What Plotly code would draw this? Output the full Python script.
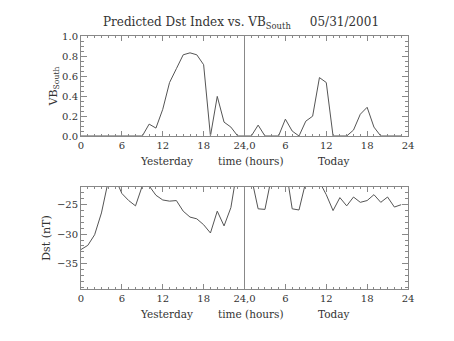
import plotly.graph_objects as go

hours = list(range(48))
vb_south = [0, 0, 0, 0, 0, 0, 0, 0, 0, 0, 0.12, 0.08, 0.27, 0.54, 0.68, 0.82, 0.84, 0.82, 0.72, 0.0, 0.40, 0.14, 0.09, 0.0,
            0, 0, 0.11, 0, 0, 0, 0.17, 0.05, 0, 0.15, 0.20, 0.59, 0.54, 0, 0, 0, 0.06, 0.22, 0.29, 0.09, 0, 0, 0, 0]
dst = [-32.6, -31.9, -30.1, -26.4, -21.0, -20.5, -23.1, -24.3, -25.2, -21.8, -21.8, -23.4, -24.2, -24.4, -24.3, -26.1,
       -27.1, -27.4, -28.4, -29.8, -26.1, -28.6, -25.5, -18.5,
       -18.0, -20.3, -25.7, -25.8, -20.1, -19.0, -18.3, -25.7, -25.9, -21.1, -20.0, -21.1, -23.3, -26.0, -23.8, -25.2,
       -23.7, -24.6, -24.3, -23.3, -24.6, -23.7, -25.4, -25.0]
tick_vals = [0, 6, 12, 18, 24, 30, 36, 42, 48]
tick_text = ["0", "6", "12", "18", "24,0", "6", "12", "18", "24"]
sub_labels = ["Yesterday", "time (hours)", "Today"]
sub_pos = [12.5, 25, 37]

W, H = 454, 341
L, R, T, B = 81, 408, 36, 289
top_y0, bot_y1 = 136, 187
ph = B - T
FONT = "DejaVu Serif"
TXT = "#333333"
LINE = "#555555"
AX = "#888888"

fig = go.Figure()
fig.add_trace(go.Scatter(x=hours, y=vb_south, mode="lines", line=dict(color=LINE, width=1),
                         xaxis="x", yaxis="y", showlegend=False))
fig.add_trace(go.Scatter(x=hours, y=dst, mode="lines", line=dict(color=LINE, width=1),
                         xaxis="x2", yaxis="y2", showlegend=False))

axcommon = dict(showline=True, linecolor=AX, linewidth=1, mirror="allticks", ticks="inside",
                tickcolor=AX, showgrid=False, zeroline=False,
                tickfont=dict(family=FONT, size=10, color=TXT))
xcommon = dict(axcommon, range=[0, 48], tickvals=tick_vals, ticktext=tick_text, ticklen=5,
               minor=dict(dtick=1, tick0=0, ticklen=2, ticks="inside", tickcolor=AX))

fig.update_layout(
    width=W, height=H,
    margin=dict(l=L, r=W - R, t=T, b=H - B),
    paper_bgcolor="white", plot_bgcolor="white",
    xaxis=dict(xcommon, domain=[0, 1], anchor="y"),
    yaxis=dict(axcommon, domain=[(B - top_y0) / ph, 1], anchor="x", range=[0, 1.01],
               tickvals=[0, 0.2, 0.4, 0.6, 0.8, 1.0], ticktext=["0.0", "0.2", "0.4", "0.6", "0.8", "1.0"],
               ticklen=6, minor=dict(dtick=0.05, tick0=0, ticklen=3, ticks="inside", tickcolor=AX),
               title=dict(text="VB<sub>South</sub>", font=dict(family=FONT, size=11, color=TXT), standoff=2)),
    xaxis2=dict(xcommon, domain=[0, 1], anchor="y2"),
    yaxis2=dict(axcommon, domain=[0, (B - bot_y1) / ph], anchor="x2", range=[-39.3, -22],
                tickvals=[-25, -30, -35], ticktext=["\u221225", "\u221230", "\u221235"],
                ticklen=6, minor=dict(dtick=1, tick0=-25, ticklen=3, ticks="inside", tickcolor=AX),
                title=dict(text="Dst (nT)", font=dict(family=FONT, size=11, color=TXT), standoff=4)),
    title=dict(text="Predicted Dst Index vs. VB<sub>South</sub>     05/31/2001", x=241 / W, xanchor="center",
               y=1 - 22 / H, yanchor="middle", font=dict(family=FONT, size=12, color=TXT)),
)

for xr, yr in (("x", "y"), ("x2", "y2")):
    fig.add_shape(type="line", xref=xr, yref=yr + " domain", x0=24, x1=24, y0=0, y1=1,
                  line=dict(color=AX, width=1))
    for lab, pos in zip(sub_labels, sub_pos):
        fig.add_annotation(x=pos, xref=xr, y=0, yref=yr + " domain", yshift=-17, yanchor="top",
                           text=lab, showarrow=False, font=dict(family=FONT, size=10.5, color=TXT))

fig.write_html("out.html")
